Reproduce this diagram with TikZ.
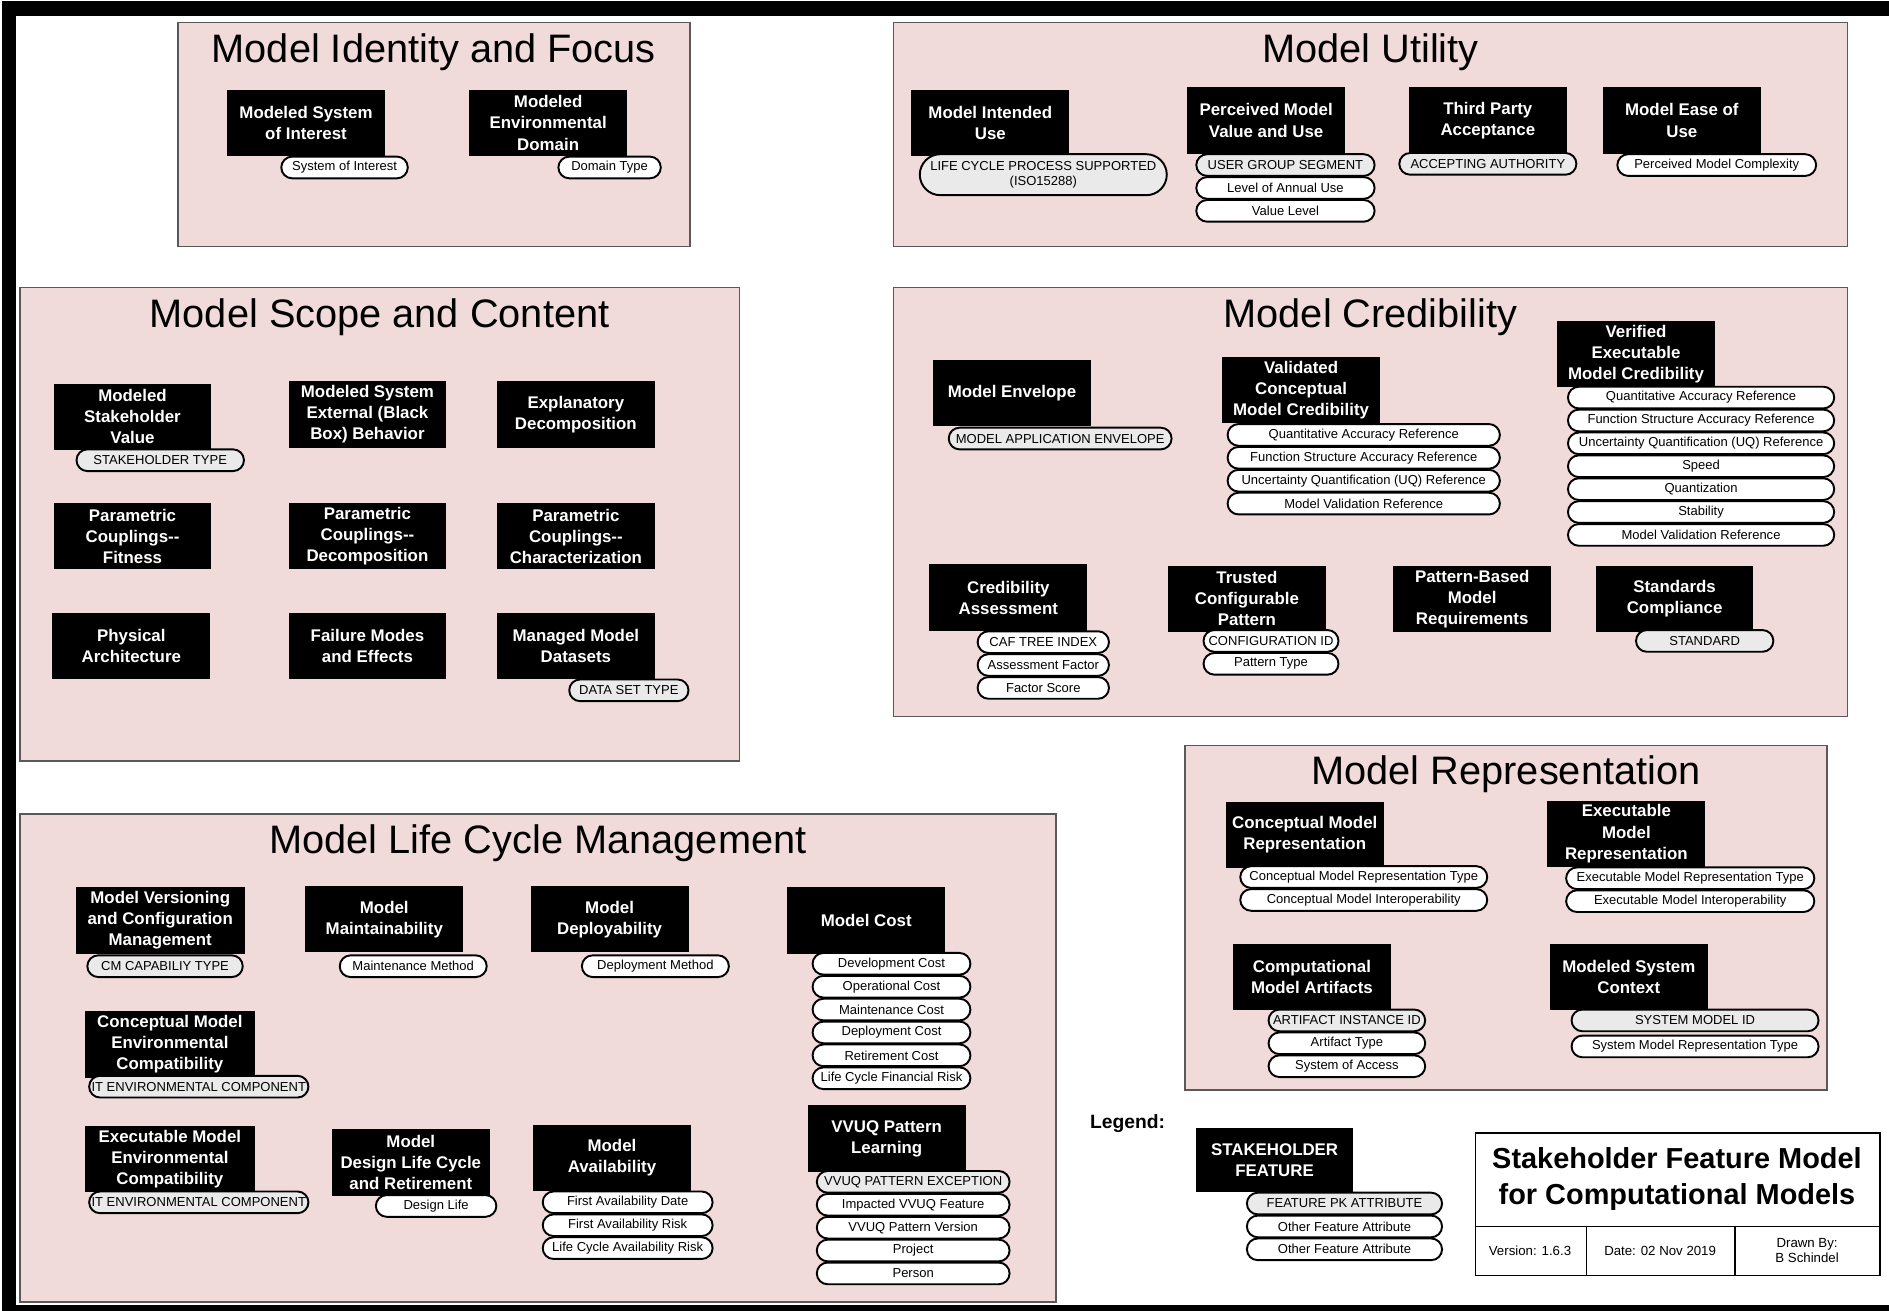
\documentclass[tikz,border=0pt]{standalone}
\usepackage{fontspec}
\setmainfont{Liberation Sans}
\usetikzlibrary{shapes.misc, positioning, calc}

\definecolor{panelpink}{RGB}{240,219,218}
\definecolor{pkgray}{RGB}{234,234,234}

\begin{document}
\begin{tikzpicture}[x=1pt, y=-1pt]
  \newcommand\stackgap{-0.6pt}
  \newcommand\titledrop{25pt}

  \tikzset{panel/.style={draw=black!65, line width=1.2pt, fill=panelpink, anchor=north west, inner sep=0pt}}
  \tikzset{paneltitle/.style={font=\fontsize{33}{38}\selectfont, inner sep=0pt}}
  \tikzset{featbox/.style={fill=black, text=white, align=center, inner sep=0pt, minimum width=131pt, minimum height=55pt, font=\fontsize{14}{17.5}\selectfont\bfseries}}
  \tikzset{attrpill/.style={draw, line width=1.6pt, fill=white, rounded rectangle, inner sep=0pt, minimum height=18pt, align=center, font=\fontsize{10.8}{12.4}\selectfont}}
  \tikzset{pkpill/.style={attrpill, fill=pkgray}}
  \tikzset{cell/.style={inner sep=0pt, align=center, font=\fontsize{11}{13}\selectfont}}

  \useasboundingbox (0,0) rectangle (1568,1088);

  % frame
  \fill (2,1) rectangle (1568,13);
  \fill (2,1) rectangle (13,1088);
  \fill (2,1083) rectangle (1568,1088);

  % panels
  \foreach \pid/\px/\py/\pw/\ph/\ptitle in {idf/147/18/425/186/Model Identity and Focus, utl/741/18/792/186/Model Utility, scp/16/238/597/393/Model Scope and Content, crd/741/238/792/356/Model Credibility, rep/983/618/533/286/Model Representation, lcm/16/675/860/405/Model Life Cycle Management}{
    \node[panel, minimum width=\pw pt, minimum height=\ph pt] (pnl-\pid) at (\px,\py) {};
    \node[paneltitle] (ttl-\pid) at ($(pnl-\pid.north)+(0,-\titledrop)$) {\ptitle};
  }

  % model identity and focus
  \node[featbox] (msoi) at (254,102) {Modeled System\\of Interest};
  \node[attrpill, minimum width=105pt] (msoi-1) at (286,139) {System of Interest};
  \node[featbox] (med) at (455,102) {Modeled\\Environmental\\Domain};
  \node[attrpill, minimum width=85pt] (med-1) at (506,139) {Domain Type};

  % model utility
  \node[featbox] (miu) at (822,102) {Model Intended\\Use};
  \node[pkpill, minimum width=205pt, minimum height=34pt] (miu-1) at (866,145) {LIFE CYCLE PROCESS SUPPORTED\\(ISO15288)};
  \node[featbox] (pmvu) at (1051,100) {Perceived Model\\Value and Use};
  \node[pkpill, minimum width=148pt] (pmvu-1) at (1067,137) {USER GROUP SEGMENT};
  \foreach \attr/\idx [count=\prev from 1] in {Level of Annual Use/2, Value Level/3}{
    \node[attrpill, minimum width=148pt, below=\stackgap of pmvu-\prev] (pmvu-\idx) {\attr};
  }
  \node[featbox] (tpa) at (1235,100) {Third Party\\Acceptance};
  \node[pkpill, minimum width=147pt] (tpa-1) at (1235,136) {ACCEPTING AUTHORITY};
  \node[featbox] (meou) at (1396,100) {Model Ease of\\Use};
  \node[attrpill, minimum width=165pt] (meou-1) at (1425,137) {Perceived Model Complexity};

  % model scope and content
  \node[featbox] (msv) at (110,346) {Modeled\\Stakeholder\\Value};
  \node[pkpill, minimum width=139pt] (msv-1) at (133,382) {STAKEHOLDER TYPE};
  \node[featbox] (mseb) at (305,344) {Modeled System\\External (Black\\Box) Behavior};
  \node[featbox] (exd) at (478,344) {Explanatory\\Decomposition};
  \node[featbox] (pcf) at (110,445) {Parametric\\Couplings{-}{-}\\Fitness};
  \node[featbox] (pcd) at (305,445) {Parametric\\Couplings{-}{-}\\Decomposition};
  \node[featbox] (pcc) at (478,445) {Parametric\\Couplings{-}{-}\\Characterization};
  \node[featbox] (pha) at (109,536) {Physical\\Architecture};
  \node[featbox] (fme) at (305,536) {Failure Modes\\and Effects};
  \node[featbox] (mmd) at (478,536) {Managed Model\\Datasets};
  \node[pkpill, minimum width=99pt] (mmd-1) at (522,573) {DATA SET TYPE};

  % model credibility
  \node[featbox] (men) at (840,326) {Model Envelope};
  \node[pkpill, minimum width=185pt] (men-1) at (880,364) {MODEL APPLICATION ENVELOPE};
  \node[featbox] (vcmc) at (1080,324) {Validated\\Conceptual\\Model Credibility};
  \node[attrpill, minimum width=226pt] (vcmc-1) at (1132,361) {Quantitative Accuracy Reference};
  \foreach \attr/\idx [count=\prev from 1] in {Function Structure Accuracy Reference/2, Uncertainty Quantification (UQ) Reference/3, Model Validation Reference/4}{
    \node[attrpill, minimum width=226pt, below=\stackgap of vcmc-\prev] (vcmc-\idx) {\attr};
  }
  \node[featbox] (vemc) at (1358,294) {Verified\\Executable\\Model Credibility};
  \node[attrpill, minimum width=221pt] (vemc-1) at (1412,330) {Quantitative Accuracy Reference};
  \foreach \attr/\idx [count=\prev from 1] in {Function Structure Accuracy Reference/2, Uncertainty Quantification (UQ) Reference/3, Speed/4, Quantization/5, Stability/6, Model Validation Reference/7}{
    \node[attrpill, minimum width=221pt, below=\stackgap of vemc-\prev] (vemc-\idx) {\attr};
  }
  \node[featbox] (cas) at (837,496) {Credibility\\Assessment};
  \node[attrpill, minimum width=109pt] (cas-1) at (866,533) {CAF TREE INDEX};
  \foreach \attr/\idx [count=\prev from 1] in {Assessment Factor/2, Factor Score/3}{
    \node[attrpill, minimum width=109pt, below=\stackgap of cas-\prev] (cas-\idx) {\attr};
  }
  \node[featbox] (tcp) at (1035,497) {Trusted\\Configurable\\Pattern};
  \node[attrpill, minimum width=112pt] (tcp-1) at (1055,532) {CONFIGURATION ID};
  \node[attrpill, minimum width=112pt, below=\stackgap of tcp-1] (tcp-2) {Pattern Type};
  \node[featbox] (pbmr) at (1222,497) {Pattern-Based\\Model\\Requirements};
  \node[featbox] (stc) at (1390,497) {Standards\\Compliance};
  \node[pkpill, minimum width=114pt] (stc-1) at (1415,532) {STANDARD};

  % model representation
  \node[featbox] (cmr) at (1083,693) {Conceptual Model\\Representation};
  \node[attrpill, minimum width=205pt] (cmr-1) at (1132,728) {Conceptual Model Representation Type};
  \node[attrpill, minimum width=205pt, below=\stackgap of cmr-1] (cmr-2) {Conceptual Model Interoperability};
  \node[featbox] (emr) at (1350,692) {Executable\\Model\\Representation};
  \node[attrpill, minimum width=206pt] (emr-1) at (1403,729) {Executable Model Representation Type};
  \node[attrpill, minimum width=206pt, below=\stackgap of emr-1] (emr-2) {Executable Model Interoperability};
  \node[featbox] (cma) at (1089,811) {Computational\\Model Artifacts};
  \node[pkpill, minimum width=130pt] (cma-1) at (1118,847) {ARTIFACT INSTANCE ID};
  \foreach \attr/\idx [count=\prev from 1] in {Artifact Type/2, System of Access/3}{
    \node[attrpill, minimum width=130pt, below=\stackgap of cma-\prev] (cma-\idx) {\attr};
  }
  \node[featbox] (msc) at (1352,811) {Modeled System\\Context};
  \node[pkpill, minimum width=205pt] (msc-1) at (1407,847) {SYSTEM MODEL ID};
  \node[attrpill, minimum width=205pt, below=2pt of msc-1] (msc-2) {System Model Representation Type};

  % model life cycle management
  \node[featbox, minimum width=140pt] (mvcm) at (133,764) {Model Versioning\\and Configuration\\Management};
  \node[pkpill, minimum width=129pt] (mvcm-1) at (137,802) {CM CAPABILIY TYPE};
  \node[featbox] (mmt) at (319,763) {Model\\Maintainability};
  \node[attrpill, minimum width=122pt] (mmt-1) at (343,802) {Maintenance Method};
  \node[featbox] (mdp) at (506,763) {Model\\Deployability};
  \node[attrpill, minimum width=122pt] (mdp-1) at (544,802) {Deployment Method};
  \node[featbox] (mco) at (719,764) {Model Cost};
  \node[attrpill, minimum width=131pt] (mco-1) at (740,800) {Development Cost};
  \foreach \attr/\idx [count=\prev from 1] in {Operational Cost/2, Maintenance Cost/3, Deployment Cost/4, Retirement Cost/5, Life Cycle Financial Risk/6}{
    \node[attrpill, minimum width=131pt, below=\stackgap of mco-\prev] (mco-\idx) {\attr};
  }
  \node[featbox, minimum width=141pt] (cmec) at (141,867) {Conceptual Model\\Environmental\\Compatibility};
  \node[pkpill, minimum width=182pt] (cmec-1) at (165,902) {IT ENVIRONMENTAL COMPONENT};
  \node[featbox, minimum width=141pt] (emec) at (141,962) {Executable Model\\Environmental\\Compatibility};
  \node[pkpill, minimum width=182pt] (emec-1) at (165,998) {IT ENVIRONMENTAL COMPONENT};
  \node[featbox] (mdlc) at (341,965) {Model\\Design Life Cycle\\and Retirement};
  \node[attrpill, minimum width=100pt] (mdlc-1) at (362,1001) {Design Life};
  \node[featbox] (mav) at (508,961) {Model\\Availability};
  \node[attrpill, minimum width=141pt] (mav-1) at (521,998) {First Availability Date};
  \foreach \attr/\idx [count=\prev from 1] in {First Availability Risk/2, Life Cycle Availability Risk/3}{
    \node[attrpill, minimum width=141pt, below=\stackgap of mav-\prev] (mav-\idx) {\attr};
  }
  \node[featbox] (vpl) at (736,945) {VVUQ Pattern\\Learning};
  \node[pkpill, minimum width=160pt] (vpl-1) at (758,981) {VVUQ PATTERN EXCEPTION};
  \foreach \attr/\idx [count=\prev from 1] in {Impacted VVUQ Feature/2, VVUQ Pattern Version/3, Project/4, Person/5}{
    \node[attrpill, minimum width=160pt, below=\stackgap of vpl-\prev] (vpl-\idx) {\attr};
  }

  % legend
  \node[inner sep=0pt, font=\fontsize{16}{19}\selectfont\bfseries] (lgd) at (936,933) {Legend:};
  \node[featbox, minimum width=130pt, minimum height=53pt] (shf) at (1058,963) {STAKEHOLDER\\FEATURE};
  \node[pkpill, minimum width=162pt] (shf-1) at (1116,999) {FEATURE PK ATTRIBUTE};
  \foreach \idx [count=\prev from 1] in {2, 3}{
    \node[attrpill, minimum width=162pt, below=\stackgap of shf-\prev] (shf-\idx) {Other Feature Attribute};
  }

  % title block
  \node[draw, line width=1.2pt, anchor=north west, minimum width=336pt, minimum height=118pt, inner sep=0pt] (tblk) at (1224,940) {};
  \draw[line width=1.2pt] (1224,1018) -- (1560,1018);
  \draw[line width=1.2pt] (1317,1018) -- (1317,1058);
  \draw[line width=1.2pt] (1440,1018) -- (1440,1058);
  \node[cell, font=\fontsize{24}{30}\selectfont\bfseries] (tblk-title) at (1392,979) {Stakeholder Feature Model\\for Computational Models};
  \node[cell] (tblk-ver) at (1270,1038) {Version: 1.6.3};
  \node[cell] (tblk-date) at (1378,1038) {Date: 02 Nov 2019};
  \node[cell] (tblk-by) at (1500,1038) {Drawn By:\\B Schindel};
\end{tikzpicture}
\end{document}
